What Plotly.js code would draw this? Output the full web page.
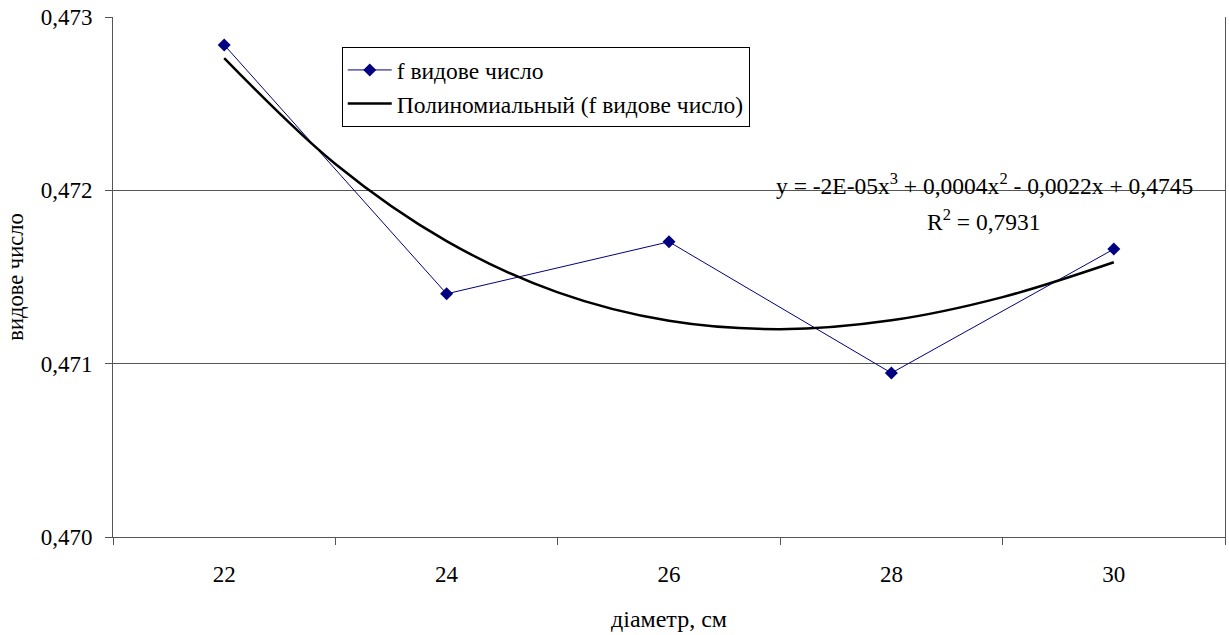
<!DOCTYPE html>
<html>
<head>
<meta charset="utf-8">
<script src="https://cdn.plot.ly/plotly-3.0.1.min.js"></script>
<style>
html,body{margin:0;padding:0;background:#fff;}
#chart{width:1229px;height:635px;}
</style>
</head>
<body>
<div id="chart"></div>
<script>
// Data
const diameters = [22, 24, 26, 28, 30];
const formNumber = [0.472839, 0.471403, 0.471703, 0.470946, 0.471661];
// Polynomial trendline
const trendX = [22, 23, 24, 25, 26, 27, 28, 29, 30];
const trendY = [0.472763, 0.472152, 0.471707, 0.471411, 0.471247, 0.471199, 0.471250, 0.471384, 0.471585];
const xTickLabels = ['22', '24', '26', '28', '30'];
const xBoundaries = [21, 23, 25, 27, 29, 31];
const seriesName = 'f видове число';
const trendName = 'Полиномиальный (f видове число)';
const eqLine1 = 'y = -2E-05x<sup>3</sup> + 0,0004x<sup>2</sup> - 0,0022x + 0,4745';
const eqLine2 = 'R<sup>2</sup> = 0,7931';

const FONT = '"Liberation Serif", "Times New Roman", serif';

const traces = [
  {
    x: diameters, y: formNumber, name: seriesName,
    type: 'scatter', mode: 'lines+markers',
    line: {color: '#000080', width: 1},
    marker: {symbol: 'diamond', size: 10, color: '#000080'},
    xaxis: 'x', yaxis: 'y'
  },
  {
    x: trendX, y: trendY, name: trendName,
    type: 'scatter', mode: 'lines',
    line: {color: '#000000', width: 2.5, shape: 'spline'},
    xaxis: 'x2', yaxis: 'y'
  }
];

const layout = {
  width: 1229, height: 635,
  margin: {l: 113, r: 4, t: 17, b: 98},
  paper_bgcolor: '#fff', plot_bgcolor: '#fff',
  separators: ', ',
  font: {family: FONT, size: 23, color: '#000'},
  showlegend: true,
  legend: {
    x: 0.2057, y: 0.942, xanchor: 'left', yanchor: 'top',
    bordercolor: '#000', borderwidth: 1, bgcolor: '#fff',
    font: {family: FONT, size: 23.5, color: '#000'},
    itemwidth: 44, tracegroupgap: 0
  },
  xaxis: {
    range: [21, 31], fixedrange: true,
    tickvals: diameters, ticktext: xTickLabels,
    ticks: '', showgrid: false, zeroline: false,
    showline: true, linecolor: '#555', linewidth: 1,
    ticklabelstandoff: 16,
    tickfont: {family: FONT, size: 23, color: '#000'},
    title: {text: 'діаметр, см', font: {family: FONT, size: 24, color: '#000'}, standoff: 24}
  },
  xaxis2: {
    range: [21, 31], overlaying: 'x', side: 'bottom', anchor: 'y',
    tickvals: xBoundaries, ticks: 'outside', ticklen: 7, tickcolor: '#555',
    showticklabels: false, showgrid: false, zeroline: false, showline: false
  },
  yaxis: {
    range: [0.470, 0.473], dtick: 0.001, tick0: 0.470, tickformat: '.3f',
    ticks: 'outside', ticklen: 7, tickcolor: '#555',
    showgrid: true, gridcolor: '#555', gridwidth: 1, zeroline: false,
    showline: true, linecolor: '#555', linewidth: 1, mirror: true,
    ticklabelstandoff: 8,
    tickfont: {family: FONT, size: 23, color: '#000'},
    title: {text: 'видове число', font: {family: FONT, size: 22.5, color: '#000'}, standoff: 10}
  },
  annotations: [
    {text: eqLine1, xref: 'paper', yref: 'paper', x: 0.7835, y: 0.679,
     xanchor: 'center', yanchor: 'middle', showarrow: false,
     font: {family: FONT, size: 23.5, color: '#000'}},
    {text: eqLine2, xref: 'paper', yref: 'paper', x: 0.7835, y: 0.610,
     xanchor: 'center', yanchor: 'middle', showarrow: false,
     font: {family: FONT, size: 23.5, color: '#000'}}
  ]
};

Plotly.newPlot('chart', traces, layout, {displayModeBar: false, staticPlot: true});
</script>
</body>
</html>
